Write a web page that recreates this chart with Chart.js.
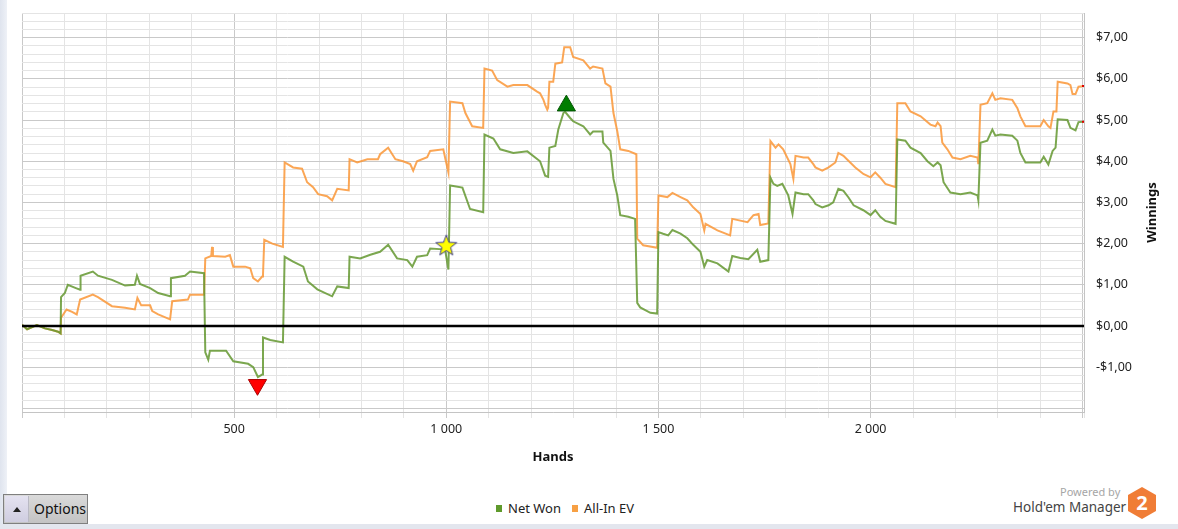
<!DOCTYPE html>
<html><head><meta charset="utf-8">
<script src="https://cdn.jsdelivr.net/npm/chart.js@4.4.1/dist/chart.umd.min.js"></script>
<style>
html,body{margin:0;padding:0;background:#fff;width:1178px;height:529px;overflow:hidden;font-family:'Noto Sans',sans-serif;}
#leftstrip{position:absolute;left:0;top:0;width:7px;height:529px;background:linear-gradient(to right,#dfe4ee,#eef1f7);}
#bottomstrip{position:absolute;left:0;top:524px;width:1178px;height:5px;background:#e3e6ee;}
#wrap{position:absolute;left:0;top:0;width:1178px;height:470px;}
#legend{position:absolute;top:499px;left:496px;height:18px;display:flex;align-items:center;font-size:13px;color:#222;white-space:nowrap;}
#legend .sq{display:inline-block;width:6px;height:7px;margin-right:6px;}
#legend .item{display:flex;align-items:center;margin-right:11px;}
#options{position:absolute;left:3px;top:494px;width:85px;height:30px;border:1px solid #7f7f7f;background:linear-gradient(#dadada,#c3c3c3);box-sizing:border-box;}
#options .lft{position:absolute;left:1px;top:1px;width:23px;height:26px;background:linear-gradient(#e4e2f0,#cfcde0);border-right:1px solid #b9b9c4;}
#options .tri{position:absolute;left:8px;top:11px;width:0;height:0;border-left:4px solid transparent;border-right:4px solid transparent;border-bottom:5px solid #222;}
#options .txt{position:absolute;left:30px;top:4px;font-size:14px;color:#111;}
#powered{position:absolute;left:1060px;top:484px;font-size:11px;color:#a6a6a6;}
#hem{position:absolute;left:1013px;top:498px;font-size:13.5px;color:#444;}
#logo{position:absolute;left:1127px;top:487px;}
</style>
</head>
<body>
<div id="leftstrip"></div>
<div id="bottomstrip"></div>
<div id="wrap"><canvas id="c" width="1178" height="470"></canvas></div>
<div id="legend">
  <span class="item"><span class="sq" style="background:#5f9a2c"></span>Net Won</span>
  <span class="item"><span class="sq" style="background:#f7a044"></span>All-In EV</span>
</div>
<div id="options"><div class="lft"><div class="tri"></div></div><div class="txt">Options</div></div>
<div id="powered">Powered by</div>
<div id="hem">Hold'em Manager</div>
<svg id="logo" width="30" height="34" viewBox="0 0 30 34">
  <polygon points="15,0 29,8 29,24 15,32 1,24 1,8" fill="#f07d36"/>
  <text x="15" y="23" text-anchor="middle" font-family="Noto Sans, sans-serif" font-weight="bold" font-size="20" fill="#fff">2</text>
</svg>
<script>
// ---------- DATA ----------
const netWonHands = [0,12,35,54,71,85,91,92,101,108,127,137,138,167,179,212,243,266,271,278,302,321,349,351,384,396,429,432,439,443,481,498,533,545,556,566,568,585,615,619,639,663,674,696,731,743,770,772,797,821,844,863,884,908,920,931,955,962,993,998,1005,1009,1038,1056,1087,1090,1111,1127,1158,1191,1221,1233,1240,1243,1257,1264,1276,1280,1292,1299,1323,1339,1346,1368,1370,1387,1394,1403,1410,1429,1445,1450,1457,1481,1497,1500,1511,1523,1533,1552,1568,1582,1599,1608,1615,1639,1665,1674,1693,1712,1733,1740,1759,1764,1771,1780,1792,1806,1816,1823,1842,1853,1865,1870,1886,1901,1912,1924,1936,1948,1960,1983,2000,2011,2023,2035,2059,2063,2082,2094,2118,2134,2148,2158,2165,2172,2188,2212,2235,2252,2254,2259,2275,2287,2294,2306,2334,2346,2353,2365,2400,2408,2419,2429,2436,2441,2464,2471,2483,2490,2503];
const netWon = [0.03,-0.08,0.02,-0.06,-0.1,-0.14,-0.18,0.7,0.8,1.0,0.92,0.88,1.22,1.32,1.22,1.12,0.98,1.0,1.22,1.02,0.92,0.8,0.72,1.16,1.22,1.32,1.28,-0.64,-0.82,-0.6,-0.6,-0.86,-0.92,-1.0,-1.24,-1.18,-0.28,-0.34,-0.4,1.68,1.56,1.44,1.08,0.89,0.72,0.96,0.92,1.68,1.64,1.73,1.8,1.97,1.64,1.6,1.44,1.68,1.72,1.88,1.86,1.8,1.37,3.41,3.36,2.84,2.76,4.65,4.55,4.29,4.2,4.24,4.0,3.65,3.62,4.33,4.37,4.77,5.17,5.2,5.05,4.97,4.85,4.65,4.72,4.72,4.45,4.25,3.57,3.17,2.69,2.65,2.6,0.56,0.45,0.32,0.3,2.28,2.24,2.2,2.33,2.24,2.13,1.97,1.8,1.44,1.6,1.52,1.32,1.7,1.65,1.62,1.85,1.56,1.6,3.6,3.45,3.4,3.45,3.17,2.72,3.24,3.2,3.2,3.05,2.96,2.88,2.93,3.0,3.33,3.28,3.12,2.93,2.81,2.69,2.81,2.65,2.55,2.48,4.53,4.5,4.33,4.2,4.0,3.88,3.97,3.9,3.49,3.24,3.2,3.24,3.17,3.05,4.45,4.5,4.77,4.62,4.65,4.62,4.5,4.2,3.97,3.97,4.11,3.92,4.25,4.33,5.02,5.0,4.81,4.75,4.95,4.96];

const allInHands = [0,12,35,54,71,85,91,92,105,118,129,137,167,179,212,243,266,272,281,302,307,321,349,354,391,396,429,432,446,448,450,479,490,498,526,538,545,556,566,568,571,590,615,619,639,660,672,686,698,719,731,743,770,772,790,814,839,844,863,880,898,915,922,931,955,962,993,998,1005,1009,1038,1045,1061,1087,1090,1108,1120,1144,1158,1191,1214,1221,1229,1233,1238,1240,1243,1252,1257,1273,1278,1292,1299,1323,1339,1346,1368,1375,1387,1394,1403,1410,1429,1448,1450,1464,1497,1500,1521,1533,1552,1568,1582,1599,1608,1611,1639,1669,1674,1710,1724,1736,1740,1759,1764,1776,1783,1794,1811,1818,1823,1842,1853,1865,1870,1886,1901,1917,1924,1936,1952,1964,1983,2000,2011,2023,2035,2059,2063,2082,2094,2118,2141,2153,2158,2165,2169,2181,2193,2212,2235,2252,2254,2259,2275,2287,2294,2306,2334,2346,2353,2365,2400,2408,2419,2424,2431,2438,2441,2464,2471,2476,2483,2490,2503];
const allInEV = [0.03,-0.08,0.02,-0.06,-0.1,-0.14,-0.18,0.2,0.4,0.34,0.28,0.64,0.76,0.7,0.48,0.44,0.4,0.68,0.5,0.5,0.36,0.28,0.16,0.6,0.64,0.76,0.76,1.64,1.7,1.92,1.7,1.68,1.72,1.44,1.44,1.4,1.16,1.08,1.2,1.25,2.09,2.0,1.92,3.97,3.85,3.82,3.49,3.37,3.2,3.15,3.05,3.33,3.29,4.05,3.97,4.05,4.05,4.17,4.33,4.05,4.0,3.93,3.77,4.0,4.1,4.25,4.29,4.05,3.73,5.45,5.41,5.17,4.85,4.81,6.25,6.2,5.97,5.81,5.85,5.85,5.69,5.65,5.49,5.37,5.25,5.3,5.93,5.93,6.37,6.4,6.77,6.77,6.53,6.45,6.25,6.3,6.25,5.89,5.81,5.17,4.73,4.29,4.25,4.17,2.12,1.96,1.9,3.17,3.13,3.23,3.13,3.05,2.88,2.72,2.32,2.48,2.32,2.2,2.6,2.52,2.69,2.72,2.45,2.49,4.49,4.33,4.41,4.29,3.93,3.57,4.13,4.09,4.09,3.93,3.85,3.77,3.85,3.97,4.2,4.13,3.97,3.85,3.69,3.61,3.73,3.6,3.45,3.37,5.41,5.41,5.21,5.09,4.89,4.85,4.94,4.85,4.45,4.29,4.09,4.05,4.13,4.09,3.93,5.37,5.41,5.65,5.49,5.53,5.49,5.29,5.09,4.85,4.85,5.0,4.85,4.81,5.21,5.21,5.93,5.89,5.85,5.63,5.63,5.81,5.83];

// markers: lowest point, highest point, star
const markerHands  = [555, 1283, 1000];
const markerValues = [-1.43, 5.35, 1.96];

const xTickLabelValues = [500, 1000, 1500, 2000];
const yTickLabelValues = [-1, 0, 1, 2, 3, 4, 5, 6, 7];
const seriesNames = ['Net Won', 'All-In EV'];

const X_MIN = 0, X_MAX = 2503, Y_MIN = -2.09, Y_MAX = 7.6;

// ---------- helpers ----------
const toXY = (xs, ys) => xs.map((x, i) => ({x, y: ys[i]}));
const fmtHands = v => String(v).replace(/\B(?=(\d{3})+(?!\d))/g, '\u00a0');
const fmtMoney = v => (v < 0 ? '-$' : '$') + Math.abs(v).toFixed(2).replace('.', ',');
const isInt = v => Math.abs(v - Math.round(v)) < 1e-6;

function starCanvas() {
  const c = document.createElement('canvas');
  c.width = 24; c.height = 24;
  const g = c.getContext('2d');
  g.beginPath();
  for (let i = 0; i < 10; i++) {
    const r = i % 2 === 0 ? 11 : 4.6;
    const a = -Math.PI / 2 + i * Math.PI / 5;
    const px = 12 + r * Math.cos(a), py = 12.8 + r * Math.sin(a);
    i === 0 ? g.moveTo(px, py) : g.lineTo(px, py);
  }
  g.closePath();
  g.fillStyle = '#ffff00'; g.fill();
  g.lineWidth = 1; g.strokeStyle = '#3c3c8a'; g.stroke();
  return c;
}

const lastIdx = arr => arr.length - 1;

const zeroLine = {
  id: 'zeroLine',
  afterDatasetsDraw(chart) {
    const {ctx, chartArea, scales} = chart;
    const y = scales.y.getPixelForValue(0);
    ctx.save();
    ctx.strokeStyle = '#000'; ctx.lineWidth = 2.6;
    ctx.beginPath(); ctx.moveTo(chartArea.left, y); ctx.lineTo(chartArea.right, y); ctx.stroke();
    ctx.restore();
  },
  afterDraw(chart) {
    const {ctx, chartArea, scales} = chart;
    const t = scales.y.options.title;
    ctx.save();
    ctx.translate(scales.y.left + 68.5, (chartArea.top + chartArea.bottom) / 2);
    ctx.rotate(-Math.PI / 2);
    ctx.font = 'bold 13px "Noto Sans", sans-serif';
    ctx.fillStyle = '#111';
    ctx.textAlign = 'center'; ctx.textBaseline = 'middle';
    ctx.fillText(t.text, 0, 0);
    ctx.restore();
  }
};

new Chart(document.getElementById('c'), {
  type: 'line',
  data: {
    datasets: [
      {
        label: 'Lowest', type: 'scatter', order: 0,
        data: [{x: markerHands[0], y: markerValues[0]}],
        pointStyle: 'triangle', rotation: 180, pointRadius: 10.5,
        backgroundColor: '#ff0000', borderColor: '#a80000', borderWidth: 1
      },
      {
        label: 'Highest', type: 'scatter', order: 0,
        data: [{x: markerHands[1], y: markerValues[1]}],
        pointStyle: 'triangle', rotation: 0, pointRadius: 10.5,
        backgroundColor: '#007d00', borderColor: '#005500', borderWidth: 1
      },
      {
        label: 'Star', type: 'scatter', order: 0,
        data: [{x: markerHands[2], y: markerValues[2]}],
        pointStyle: starCanvas(), pointRadius: 12
      },
      {
        label: seriesNames[0], order: 1,
        data: toXY(netWonHands, netWon),
        borderColor: 'rgba(100,152,48,0.85)', borderWidth: 2, tension: 0,
        pointRadius: ctx => ctx.dataIndex === lastIdx(netWon) ? 2 : 0,
        pointStyle: 'line', pointBorderColor: '#e00000', pointBorderWidth: 2
      },
      {
        label: seriesNames[1], order: 2,
        data: toXY(allInHands, allInEV),
        borderColor: 'rgba(250,150,55,0.85)', borderWidth: 2, tension: 0,
        pointRadius: ctx => ctx.dataIndex === lastIdx(allInEV) ? 2 : 0,
        pointStyle: 'line', pointBorderColor: '#e00000', pointBorderWidth: 2
      }
    ]
  },
  options: {
    responsive: false, animation: false, devicePixelRatio: 1,
    layout: {padding: {left: 22, top: 9, right: 0, bottom: 0}},
    plugins: {legend: {display: false}, tooltip: {enabled: false}},
    scales: {
      x: {
        type: 'linear', min: X_MIN, max: X_MAX,
        afterBuildTicks: s => {
          const t = [];
          for (let v = 0; v <= 2500; v += 100) t.push({value: v});
          t.push({value: X_MAX});
          s.ticks = t;
        },
        afterFit: s => { s.height = 58; s.paddingLeft = 0; s.paddingRight = 0; },
        ticks: {
          autoSkip: false, maxRotation: 0, padding: 4,
          color: '#222', font: {family: '"Noto Sans", sans-serif', size: 12.5},
          callback: v => xTickLabelValues.includes(v) ? fmtHands(v) : ''
        },
        grid: {
          tickLength: 6,
          color: c => (c.tick && c.tick.value % 500 === 0) ? '#c9c9c9' : '#e4e4e4'
        },
        border: {display: true, color: '#c4c4c4'},
        title: {display: true, text: 'Hands', color: '#111',
          font: {family: '"Noto Sans", sans-serif', size: 13, weight: 'bold'},
          padding: {top: 0, bottom: 5}}
      },
      y: {
        type: 'linear', position: 'right', min: Y_MIN, max: Y_MAX,
        afterBuildTicks: s => {
          const t = [{value: Y_MIN}];
          for (let k = -10; k <= 38; k++) t.push({value: Math.round(k * 0.2 * 100) / 100});
          s.ticks = t;
        },
        afterFit: s => { s.width = 94; s.paddingTop = 0; s.paddingBottom = 0; },
        ticks: {
          autoSkip: false, crossAlign: 'near', padding: 12,
          color: '#222', font: {family: '"Noto Sans", sans-serif', size: 12.5},
          callback: v => yTickLabelValues.some(t => Math.abs(t - v) < 1e-6) ? fmtMoney(Math.round(v)) : ''
        },
        grid: {
          drawTicks: false,
          color: c => {
            const v = c.tick ? c.tick.value : 1;
            if (Math.abs(v) < 1e-6) return '#000';
            return isInt(v) ? '#c9c9c9' : '#e4e4e4';
          }
        },
        border: {display: true, color: '#c4c4c4'},
        title: {display: true, text: 'Winnings', color: 'rgba(0,0,0,0)',
          font: {family: '"Noto Sans", sans-serif', size: 13, weight: 'bold'}}
      }
    }
  },
  plugins: [zeroLine]
});
</script>
</body></html>
